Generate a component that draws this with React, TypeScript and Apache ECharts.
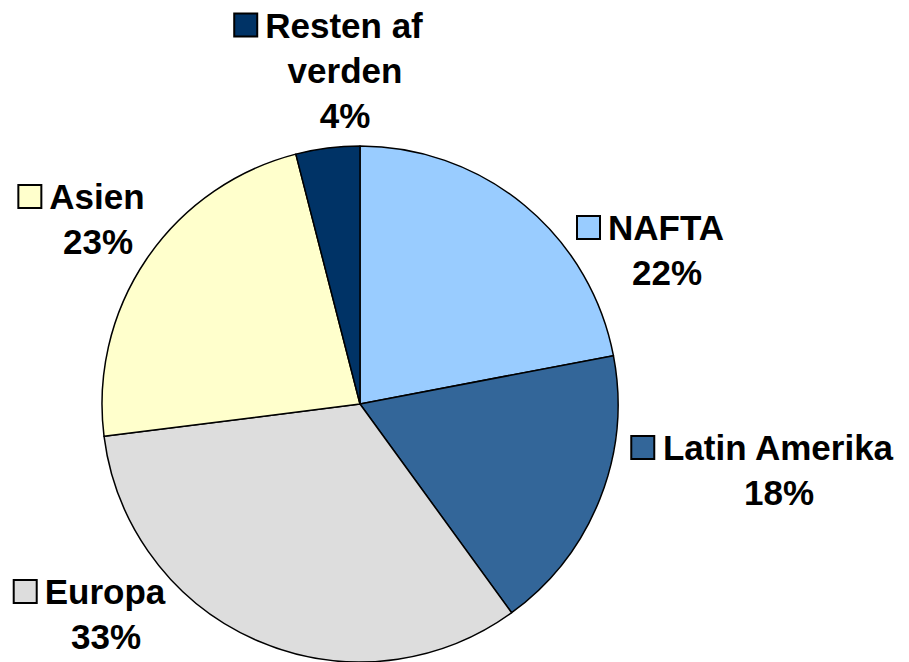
import React, { useEffect, useRef } from "react";
import * as echarts from "echarts";

const categories = ["NAFTA", "Latin Amerika", "Europa", "Asien", "Resten af\nverden"];
const shares = [22, 18, 33, 23, 4];
const sliceColors = ["#99CCFF", "#336699", "#DDDDDD", "#FFFFCC", "#003366"];

// label block centres (layout only)
const labelPos: [number, number][] = [
  [667, 250],
  [779, 470],
  [106, 614],
  [98, 219],
  [345, 70],
];

const FONT = "'Liberation Sans', Arial, sans-serif";

export default function App() {
  const ref = useRef<HTMLDivElement>(null);
  useEffect(() => {
    if (!ref.current) return;
    const chart = echarts.init(ref.current, undefined, { renderer: "svg" });
    const textStyle = {
      fontSize: 35,
      fontWeight: "bold" as const,
      fontFamily: FONT,
      color: "#000",
      lineHeight: 45,
    };
    const data = categories.map((name, i) => ({
      name,
      value: shares[i],
      itemStyle: { color: sliceColors[i] },
      label: {
        rich: {
          box: {
            width: 21,
            height: 21,
            backgroundColor: sliceColors[i],
            borderColor: "#000",
            borderWidth: 2,
          },
          gap: { width: 9, height: 10 },
          sp: { width: 32, height: 10 },
          t: textStyle,
        },
      },
    }));
    chart.setOption({
      animation: false,
      backgroundColor: "#fff",
      series: [
        {
          type: "pie",
          center: [360, 404],
          radius: 258,
          startAngle: 90,
          clockwise: true,
          avoidLabelOverlap: false,
          itemStyle: { borderColor: "#000", borderWidth: 1.5 },
          labelLine: { show: false },
          label: {
            show: true,
            position: "outside",
            align: "center",
            formatter: (p: any) => {
              const lines = String(p.name).split("\n");
              const first = `{box|}{gap|}{t|${lines[0]}}{sp|}`;
              const rest = lines.slice(1).map((l) => `{t|${l}}`);
              return [first, ...rest, `{t|${Math.round(p.percent)}%}`].join("\n");
            },
          },
          labelLayout: (params: any) => {
            const p = labelPos[params.dataIndex];
            return { x: p[0], y: p[1], align: "center", verticalAlign: "middle" };
          },
          emphasis: { disabled: true },
          data,
        },
      ],
    });
    return () => chart.dispose();
  }, []);
  return (
    <div
      ref={ref}
      style={{ position: "fixed", left: 0, top: 0, width: 909, height: 662, background: "#fff" }}
    />
  );
}
